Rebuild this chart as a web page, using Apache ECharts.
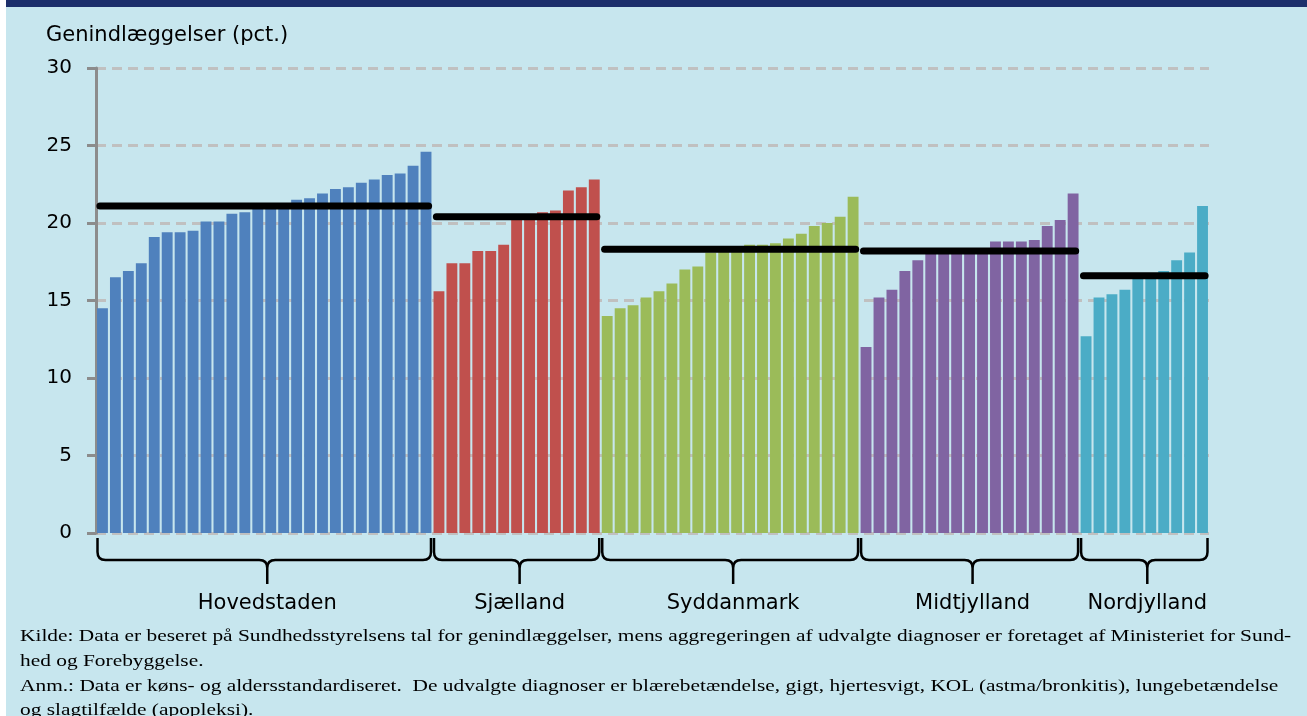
<!DOCTYPE html>
<html>
<head>
<meta charset="utf-8">
<script src="https://cdn.jsdelivr.net/npm/echarts@6/dist/echarts.min.js"></script>
<style>
  html, body {
    margin: 0;
    padding: 0;
    width: 1307px;
    height: 716px;
    overflow: hidden;
    background: #c7e6ee;
  }
  #topBar {
    position: absolute;
    left: 0;
    top: 0;
    width: 1307px;
    height: 7px;
    background: #1c2f6b;
  }
  #leftStrip {
    position: absolute;
    left: 0;
    top: 0;
    width: 6px;
    height: 716px;
    background: #fff;
  }
  #chart {
    position: absolute;
    left: 0;
    top: 0;
    width: 1307px;
    height: 716px;
  }
  #note {
    position: absolute;
    left: 20px;
    top: 624px;
    font-family: 'Liberation Serif', 'Times New Roman', serif;
    font-size: 17px;
    line-height: 24.8px;
    color: #000;
    white-space: nowrap;
    transform: scaleX(1.258);
    transform-origin: 0 0;
  }
</style>
</head>
<body>
<div id="chart"></div>
<div id="topBar"></div>
<div id="leftStrip"></div>
<div id="note">
  <div>Kilde: Data er beseret på Sundhedsstyrelsens tal for genindlæggelser, mens aggregeringen af udvalgte diagnoser er foretaget af Ministeriet for Sund-</div>
  <div>hed og Forebyggelse.</div>
  <div>Anm.: Data er køns- og aldersstandardiseret.&nbsp; De udvalgte diagnoser er blærebetændelse, gigt, hjertesvigt, KOL (astma/bronkitis), lungebetændelse</div>
  <div>og slagtilfælde (apopleksi).</div>
</div>
<script>
// regioner
const regionNames = ['Hovedstaden', 'Sjælland', 'Syddanmark', 'Midtjylland', 'Nordjylland']
const regionColors = ['#4f81bd', '#c0504d', '#9bbb59', '#8064a2', '#4bacc6']

// genindlæggelser pr. kommune (pct.)
const hovedstaden = [14.5, 16.5, 16.9, 17.4, 19.1, 19.4, 19.4, 19.5, 20.1, 20.1, 20.6, 20.7, 21.0,
  21.1, 21.2, 21.5, 21.6, 21.9, 22.2, 22.3, 22.6, 22.8, 23.1, 23.2, 23.7, 24.6]
const sjaelland = [15.6, 17.4, 17.4, 18.2, 18.2, 18.6, 20.3, 20.4, 20.7, 20.8, 22.1, 22.3, 22.8]
const syddanmark = [14.0, 14.5, 14.7, 15.2, 15.6, 16.1, 17.0, 17.2, 18.1, 18.3, 18.4, 18.6, 18.6,
  18.7, 19.0, 19.3, 19.8, 20.0, 20.4, 21.7]
const midtjylland = [12.0, 15.2, 15.7, 16.9, 17.6, 18.0, 18.1, 18.2, 18.2, 18.3, 18.8, 18.8, 18.8,
  18.9, 19.8, 20.2, 21.9]
const nordjylland = [12.7, 15.2, 15.4, 15.7, 16.4, 16.6, 16.9, 17.6, 18.1, 21.1]

// regionsgennemsnit (sorte streger)
const regionAverages = [21.1, 20.4, 18.3, 18.2, 16.6]

const regionValues = [hovedstaden, sjaelland, syddanmark, midtjylland, nordjylland]

const categories = []
const barData = []
const spans = []
let pos = 0
regionValues.forEach((vals, r) => {
  vals.forEach((v, i) => {
    categories.push(regionNames[r] + ' ' + (i + 1))
    barData.push({ value: v, itemStyle: { color: regionColors[r] } })
  })
  spans.push([pos, pos + vals.length])
  pos += vals.length
})
const total = pos

const chart = echarts.init(document.getElementById('chart'))

// gennemsnitsstreger pr. region
const avgSeries = regionAverages.map((avg, r) => {
  return {
    type: 'line',
    xAxisIndex: 1,
    yAxisIndex: 0,
    data: [[spans[r][0] + 0.3, avg], [spans[r][1] - 0.3, avg]],
    symbol: 'none',
    lineStyle: { color: '#000', width: 7, cap: 'round' },
    z: 5,
    silent: true
  }
})

// tuborgklammer + regionsnavn
const braceSeries = {
  type: 'custom',
  xAxisIndex: 1,
  yAxisIndex: 0,
  encode: { x: [0, 1] },
  data: spans,
  clip: false,
  silent: true,
  z: 4,
  renderItem: function (params, api) {
    const p1 = api.coord([api.value(0), 0])
    const p2 = api.coord([api.value(1), 0])
    const x1 = p1[0] + 1.5
    const x2 = p2[0] - 1.5
    const y0 = p1[1]
    const top = y0 + 5
    const mid = y0 + 27
    const tip = y0 + 51
    const r = 8
    const xc = (x1 + x2) / 2 + 3
    const d = 'M' + x1 + ',' + top + ' L' + x1 + ',' + (mid - r) +
      ' Q' + x1 + ',' + mid + ' ' + (x1 + r) + ',' + mid +
      ' L' + (xc - r) + ',' + mid +
      ' Q' + xc + ',' + mid + ' ' + xc + ',' + (mid + r) +
      ' L' + xc + ',' + tip +
      ' M' + xc + ',' + (mid + r) +
      ' Q' + xc + ',' + mid + ' ' + (xc + r) + ',' + mid +
      ' L' + (x2 - r) + ',' + mid +
      ' Q' + x2 + ',' + mid + ' ' + x2 + ',' + (mid - r) +
      ' L' + x2 + ',' + top
    return {
      type: 'group',
      children: [
        {
          type: 'path',
          shape: { pathData: d },
          style: { stroke: '#000', fill: 'none', lineWidth: 2.5 }
        },
        {
          type: 'text',
          style: {
            text: regionNames[params.dataIndex],
            x: xc,
            y: y0 + 71,
            align: 'center',
            verticalAlign: 'middle',
            fontSize: 21,
            fontFamily: 'DejaVu Sans',
            fill: '#000'
          }
        }
      ]
    }
  }
}

const option = {
  animation: false,
  backgroundColor: 'transparent',
  textStyle: { fontFamily: 'DejaVu Sans' },
  title: {
    text: 'Genindlæggelser (pct.)',
    left: 41,
    top: 20,
    textStyle: {
      fontSize: 21,
      fontWeight: 'normal',
      color: '#000',
      fontFamily: 'DejaVu Sans'
    }
  },
  grid: {
    left: 96,
    right: 98,
    top: 68,
    bottom: 183,
    containLabel: false
  },
  xAxis: [
    {
      type: 'category',
      data: categories,
      show: false
    },
    {
      type: 'value',
      min: 0,
      max: total,
      show: false
    }
  ],
  yAxis: {
    type: 'value',
    min: 0,
    max: 30,
    interval: 5,
    axisLine: {
      show: true,
      lineStyle: { color: '#8c8c8c', width: 3 }
    },
    axisTick: {
      show: true,
      length: 9,
      lineStyle: { color: '#8c8c8c', width: 3 }
    },
    axisLabel: {
      color: '#000',
      fontSize: 20,
      margin: 24,
      fontFamily: 'DejaVu Sans'
    },
    splitLine: {
      show: true,
      lineStyle: { color: '#c0c0c0', width: 3, type: [10, 6] }
    }
  },
  series: [
    {
      type: 'bar',
      data: barData,
      barCategoryGap: '16%',
      z: 2
    },
    ...avgSeries,
    braceSeries
  ]
}

chart.setOption(option)
</script>
</body>
</html>
